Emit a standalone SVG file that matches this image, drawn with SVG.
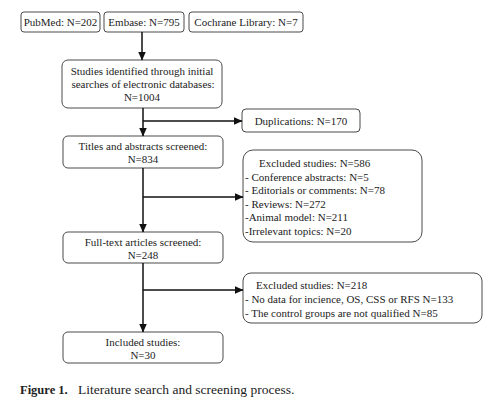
<svg xmlns="http://www.w3.org/2000/svg" width="500" height="405" viewBox="0 0 500 405">
<style>
.box{fill:#fff;stroke:#4a4a4a;stroke-width:1}
.t{font-family:"Liberation Serif","Times New Roman",serif;font-size:11px;fill:#222}
.c{text-anchor:middle}
.ln{stroke:#111;stroke-width:1.5;fill:none}
.cap{font-family:"Liberation Serif","Times New Roman",serif;fill:#222}
</style>
<defs>
<marker id="ah" markerWidth="9" markerHeight="8" refX="8.5" refY="4" orient="auto" markerUnits="userSpaceOnUse">
<path d="M0,0 L9,4 L0,8 Z" fill="#111"/>
</marker>
</defs>
<rect width="500" height="405" fill="#fff"/>
<g id="pubmed"><rect class="box" x="21" y="12" width="79" height="20" rx="3"/><text class="t c" x="60.5" y="26">PubMed: N=202</text></g>
<g id="embase"><rect class="box" x="104" y="12" width="80" height="20" rx="3"/><text class="t c" x="144" y="26">Embase: N=795</text></g>
<g id="cochrane"><rect class="box" x="189" y="12" width="114" height="20" rx="3"/><text class="t c" x="246" y="26">Cochrane Library: N=7</text></g>
<g id="identified"><rect class="box" x="62" y="60" width="160" height="48" rx="6"/><text class="t c" x="142" y="75">Studies identified through initial</text><text class="t c" x="143" y="88">searches of electronic databases:</text><text class="t c" x="142" y="101">N=1004</text></g>
<g id="duplications"><rect class="box" x="242" y="109" width="118" height="23" rx="4"/><text class="t c" x="301" y="124.5">Duplications: N=170</text></g>
<g id="titles"><rect class="box" x="63" y="136" width="160" height="32" rx="5"/><text class="t c" x="143" y="150">Titles and abstracts screened:</text><text class="t c" x="143" y="163">N=834</text></g>
<g id="excluded1"><rect class="box" x="243" y="150" width="179" height="92" rx="10"/>
<text class="t" x="259" y="167">Excluded studies: N=586</text>
<text class="t" x="245" y="180.5">- Conference abstracts: N=5</text>
<text class="t" x="245" y="194">- Editorials or comments: N=78</text>
<text class="t" x="245" y="207.5">- Reviews: N=272</text>
<text class="t" x="245" y="221">-Animal model: N=211</text>
<text class="t" x="245" y="234.5">-Irrelevant topics: N=20</text></g>
<g id="fulltext"><rect class="box" x="63" y="232" width="160" height="31" rx="5"/><text class="t c" x="143" y="246">Full-text articles screened:</text><text class="t c" x="143" y="259">N=248</text></g>
<g id="excluded2"><rect class="box" x="243" y="273" width="239" height="50" rx="8"/>
<text class="t" x="256" y="289">Excluded studies: N=218</text>
<text class="t" x="245" y="303">- No data for incience, OS, CSS or RFS N=133</text>
<text class="t" x="245" y="317">- The control groups are not qualified N=85</text></g>
<g id="included"><rect class="box" x="63" y="332" width="160" height="31" rx="5"/><text class="t c" x="143" y="346">Included studies:</text><text class="t c" x="143" y="359">N=30</text></g>
<g id="connectors">
<line class="ln" x1="142" y1="32" x2="142" y2="60" marker-end="url(#ah)"/>
<line class="ln" x1="143" y1="108" x2="143" y2="136" marker-end="url(#ah)"/>
<line class="ln" x1="143" y1="121" x2="242" y2="121" marker-end="url(#ah)"/>
<line class="ln" x1="143" y1="168" x2="143" y2="232" marker-end="url(#ah)"/>
<line class="ln" x1="143" y1="197" x2="243" y2="197" marker-end="url(#ah)"/>
<line class="ln" x1="143" y1="263" x2="143" y2="332" marker-end="url(#ah)"/>
<line class="ln" x1="143" y1="290" x2="243" y2="290" marker-end="url(#ah)"/>
</g>
<text class="cap" x="20" y="394"><tspan font-size="12.5" font-weight="bold">Figure 1.</tspan><tspan x="78" font-size="13.5">Literature search and screening process.</tspan></text>
</svg>
